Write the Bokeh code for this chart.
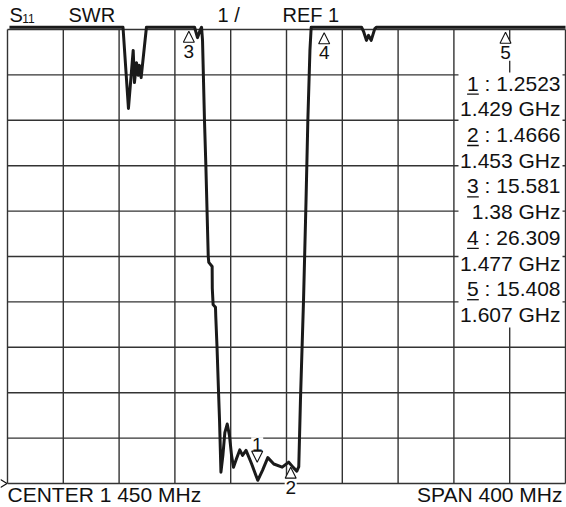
import numpy as np
from bokeh.plotting import figure
from bokeh.embed import file_html
from bokeh.resources import INLINE
from bokeh.core.properties import value

# ---------------- data ----------------
# S11 SWR trace: frequency (MHz) and SWR as displayed (values above the top are clipped to 11.05)
freq_mhz = [1251.4, 1332.8, 1336.7, 1340.1, 1341.0, 1342.5, 1343.7, 1344.6, 1345.8, 1349.6,
            1384.1, 1386.2, 1388.0, 1389.1, 1389.8, 1391.2, 1392.2, 1393.9, 1394.3, 1396.7,
            1396.8, 1397.4, 1399.1, 1399.3, 1400.2, 1401.3, 1402.0, 1403.0, 1404.4, 1405.8,
            1407.5, 1409.1, 1410.6, 1412.0, 1414.2, 1416.5, 1418.5, 1421.0, 1424.9, 1429.4,
            1432.8, 1436.6, 1440.9, 1446.9, 1451.6, 1455.0, 1457.4, 1458.8, 1460.0, 1462.2,
            1464.0, 1465.3, 1466.8, 1467.7, 1503.8, 1505.2, 1507.3, 1508.8, 1510.7, 1513.3,
            1514.5, 1650.0]
swr = [11.05, 11.05, 9.26, 10.54, 9.83, 10.27, 9.99, 10.21, 9.94, 11.05,
       11.05, 10.82, 10.98, 11.05, 10.76, 9.00, 8.00, 6.00, 5.87, 5.78,
       5.30, 4.94, 4.88, 4.68, 4.00, 3.00, 2.39, 1.25, 1.62, 2.12,
       2.31, 2.06, 1.62, 1.36, 1.55, 1.74, 1.62, 1.73, 1.44, 1.07,
       1.29, 1.57, 1.43, 1.36, 1.47, 1.35, 1.27, 1.37, 2.83, 5.03,
       7.23, 9.00, 10.54, 11.05, 11.05, 10.96, 10.76, 10.87, 10.76, 11.02,
       11.05, 11.05]

marker_ids = ["1", "2", "3", "4", "5"]
marker_freq_mhz = [1429, 1453, 1380, 1477, 1607]
marker_freq_text = ["1.429", "1.453", "1.38", "1.477", "1.607"]
marker_swr_text = ["1.2523", "1.4666", "15.581", "26.309", "15.408"]
marker_tip_swr = [1.47, 1.36, 10.96, 10.93, 10.94]   # where each marker tip sits on screen
marker_dir = ["down", "up", "up", "up", "up"]

center_text = "CENTER 1 450 MHz"
span_text = "SPAN 400 MHz"
x_ticks = list(range(1250, 1651, 40))   # 40 MHz / div
y_ticks = list(range(1, 12))            # 1 / div, REF 1
ref_value = 1

# ---------------- layout helpers (screen pixel -> data) ----------------
W, H = 566, 507
PX_PER_MHZ = 1.395
PX_PER_UNIT = 45.4

def RX(px):
    return 1250 + (px - 7) / PX_PER_MHZ

def RY(py):
    return 1 + (483 - py) / PX_PER_UNIT

def TY(baseline_px, size_px):
    # text anchor so that the drawn baseline lands on baseline_px
    return RY(baseline_px - 0.4 * size_px)

FONT = value("Liberation Sans")
INK = "#111111"
GRID = "#333333"

p = figure(width=W, height=H, x_range=(RX(0), RX(W)), y_range=(RY(H), RY(0)),
           output_backend="svg", toolbar_location=None,
           x_axis_location=None, y_axis_location=None,
           min_border_left=0, min_border_right=0, min_border_top=0, min_border_bottom=0)
p.title.visible = False
p.outline_line_color = None
p.xgrid.visible = False
p.ygrid.visible = False
p.background_fill_color = "white"
p.border_fill_color = "white"

# graticule: 10 x 10 divisions
p.segment(x0=x_ticks, x1=x_ticks, y0=[y_ticks[0]] * len(x_ticks), y1=[y_ticks[-1]] * len(x_ticks),
          line_color=GRID, line_width=1.4)
p.segment(x0=[x_ticks[0]] * len(y_ticks), x1=[x_ticks[-1]] * len(y_ticks), y0=y_ticks, y1=y_ticks,
          line_color=GRID, line_width=1.4)

# reference-level indicator ">"
p.line([RX(0), RX(6.5), RX(0)], [ref_value + 4 / PX_PER_UNIT, ref_value, ref_value - 4 / PX_PER_UNIT],
       line_color=INK, line_width=1.2)

# white panel behind the marker readout
p.quad(left=[RX(458)], right=[RX(562)], top=[RY(72)], bottom=[RY(327)],
       fill_color="white", line_color=None)

# trace
p.line(freq_mhz, swr, line_color="#1a1a1a", line_width=3, line_join="round")

# marker triangles + numbers
NUM_SIZE = 19
dx = 5.5 / PX_PER_MHZ
dy = 11 / PX_PER_UNIT
xs, ys = [], []
nx, ny = [], []
bl, br, bt, bb = [], [], [], []
for f, t, d in zip(marker_freq_mhz, marker_tip_swr, marker_dir):
    xs.append([f, f - dx, f + dx])
    tip_px = 483 - (t - 1) * PX_PER_UNIT
    if d == "up":
        ys.append([t, t - dy, t - dy])
        base_px = tip_px + 27.5
        top_px = tip_px + 11
    else:
        ys.append([t, t + dy, t + dy])
        base_px = tip_px - 10
        top_px = base_px - 15
    nx.append(f)
    ny.append(TY(base_px, NUM_SIZE))
    bl.append(f - 6 / PX_PER_MHZ)
    br.append(f + 6 / PX_PER_MHZ)
    bt.append(RY(top_px))
    bb.append(RY(base_px + 1))
p.quad(left=bl, right=br, top=bt, bottom=bb, fill_color="white", line_color=None)
p.patches(xs, ys, fill_color="white", line_color=INK, line_width=1.1)
p.text(x=nx, y=ny, text=marker_ids, text_font=FONT, text_font_size=f"{NUM_SIZE}px",
       text_align="center", text_baseline="alphabetic", text_color=INK)

# readout
RO_SIZE = 21
rows = []
for mid, v, fr in zip(marker_ids, marker_swr_text, marker_freq_text):
    rows.append(f"{mid} : {v}")
    rows.append(f"{fr} GHz")
base = [91 + i * 25.7 for i in range(len(rows))]
p.text(x=[RX(560)] * len(rows), y=[TY(b, RO_SIZE) for b in base], text=rows, text_font=FONT,
       text_font_size=f"{RO_SIZE}px", text_align="right", text_baseline="alphabetic", text_color=INK)
w = 4.448 * RO_SIZE
ub = base[0::2]
p.segment(x0=[RX(560 - w)] * len(ub), x1=[RX(560 - w + 0.556 * RO_SIZE)] * len(ub),
          y0=[RY(b + 2.6) for b in ub], y1=[RY(b + 2.6) for b in ub],
          line_color=INK, line_width=1.3)

# header
hdr_text = ["S", "11", "SWR", "1 /", "REF 1"]
hdr_x = [9, 21.7, 68, 217, 282]
hdr_size = [20, 12, 20, 20, 20]
p.text(x=[RX(v) for v in hdr_x], y=[TY(22.7, s) for s in hdr_size], text=hdr_text, text_font=FONT,
       text_font_size=[f"{s}px" for s in hdr_size], text_align="left", text_baseline="alphabetic",
       text_color=INK)

# footer
FT_SIZE = 21
FT_BASE = 502
p.text(x=[RX(7)], y=[TY(FT_BASE, FT_SIZE)], text=[center_text], text_font=FONT,
       text_font_size=f"{FT_SIZE}px", text_align="left", text_baseline="alphabetic", text_color=INK)
p.text(x=[RX(562)], y=[TY(FT_BASE, FT_SIZE)], text=[span_text], text_font=FONT,
       text_font_size=f"{FT_SIZE}px", text_align="right", text_baseline="alphabetic", text_color=INK)

open("out.html", "w").write(file_html(p, INLINE))
